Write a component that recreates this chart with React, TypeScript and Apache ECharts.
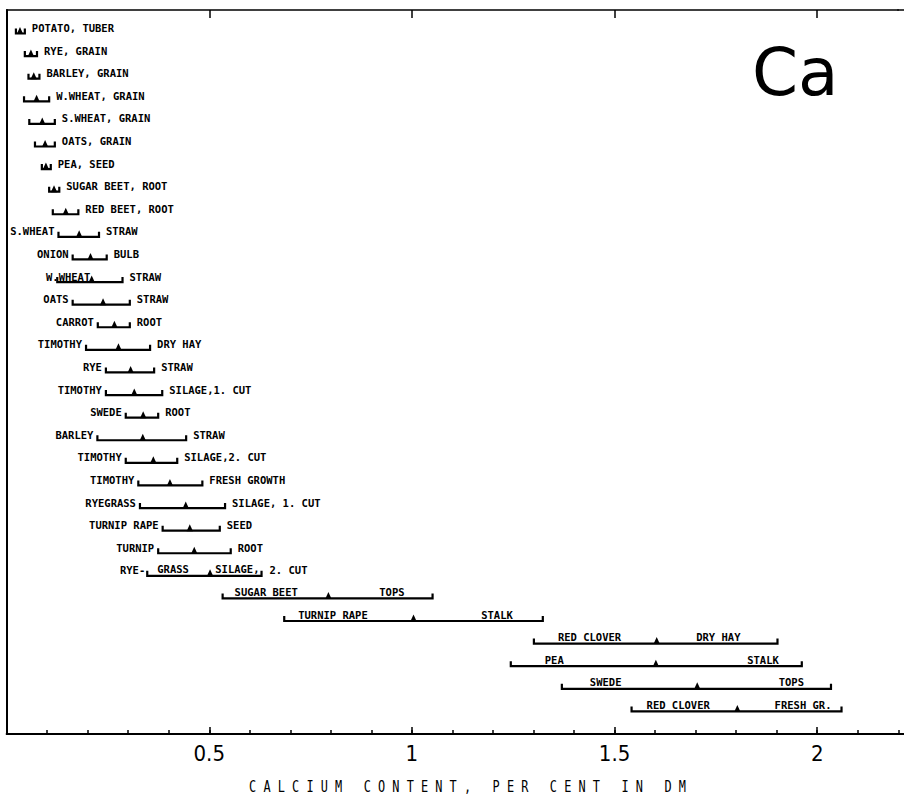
import React, { useEffect, useRef } from 'react';
import * as echarts from 'echarts';

// ---------- data ----------
const crops = [
  'POTATO', 'RYE', 'BARLEY', 'W.WHEAT', 'S.WHEAT', 'OATS', 'PEA', 'SUGAR BEET', 'RED BEET',
  'S.WHEAT', 'ONION', 'W.WHEAT', 'OATS', 'CARROT', 'TIMOTHY', 'RYE', 'TIMOTHY', 'SWEDE',
  'BARLEY', 'TIMOTHY', 'TIMOTHY', 'RYEGRASS', 'TURNIP RAPE', 'TURNIP', 'RYE-GRASS',
  'SUGAR BEET', 'TURNIP RAPE', 'RED CLOVER', 'PEA', 'SWEDE', 'RED CLOVER',
];
const parts = [
  'TUBER', 'GRAIN', 'GRAIN', 'GRAIN', 'GRAIN', 'GRAIN', 'SEED', 'ROOT', 'ROOT',
  'STRAW', 'BULB', 'STRAW', 'STRAW', 'ROOT', 'DRY HAY', 'STRAW', 'SILAGE,1. CUT', 'ROOT',
  'STRAW', 'SILAGE,2. CUT', 'FRESH GROWTH', 'SILAGE, 1. CUT', 'SEED', 'ROOT', 'SILAGE, 2. CUT',
  'TOPS', 'STALK', 'DRY HAY', 'STALK', 'TOPS', 'FRESH GR.',
];
const minVals = [
  0.023, 0.045, 0.054, 0.043, 0.056, 0.070, 0.087, 0.105, 0.114,
  0.128, 0.163, 0.125, 0.163, 0.225, 0.196, 0.245, 0.245, 0.294,
  0.224, 0.294, 0.325, 0.329, 0.385, 0.374, 0.347,
  0.533, 0.685, 1.301, 1.244, 1.370, 1.542,
];
const meanVals = [
  0.033, 0.060, 0.067, 0.074, 0.088, 0.095, 0.097, 0.117, 0.146,
  0.179, 0.207, 0.210, 0.238, 0.266, 0.276, 0.306, 0.315, 0.337,
  0.336, 0.362, 0.403, 0.442, 0.452, 0.463, 0.502,
  0.794, 1.004, 1.604, 1.602, 1.704, 1.803,
];
const maxVals = [
  0.045, 0.075, 0.081, 0.105, 0.119, 0.119, 0.109, 0.130, 0.177,
  0.228, 0.247, 0.286, 0.304, 0.304, 0.354, 0.364, 0.384, 0.374,
  0.443, 0.421, 0.483, 0.539, 0.526, 0.553, 0.629,
  1.051, 1.323, 1.902, 1.962, 2.034, 2.060,
];
// how the two label parts are arranged around the bracket
const labelKinds = [
  'after', 'after', 'after', 'after', 'after', 'after', 'after', 'after', 'after',
  'both', 'both', 'both', 'both', 'both', 'both', 'both', 'both', 'both',
  'both', 'both', 'both', 'both', 'both', 'both', 'hyphen',
  'inside', 'inside', 'inside', 'inside', 'inside', 'inside',
];
const tickValues = [0.5, 1, 1.5, 2];
const tickLabels = ['0.5', '1', '1.5', '2'];
const axisTitle = 'CALCIUM CONTENT, PER CENT IN DM';
const elementLabel = 'Ca';

// ---------- layout / style ----------
const W = 904;
const H = 794;
const PX_PER_UNIT = 405.3;
const X0 = 6.6;
const X_MAX = 2.2;
const GRID_TOP = 10;
const GRID_BOTTOM = 60;
const LABEL_FONT = 'bold 10.5px "DejaVu Sans Mono", monospace';
const innerPads: Record<number, [number, number]> = {
  25: [12, 28],
  26: [14, 30],
  27: [24, 37],
  28: [34, 23],
  29: [28, 27],
  30: [15, 10],
};
const leftLabelShift: Record<number, number> = { 11: 37 };

function spaced(s: string) {
  return s
    .split(' ')
    .map((w) => w.split('').join(' '))
    .join('   ');
}

export default function App() {
  const ref = useRef<HTMLDivElement>(null);

  useEffect(() => {
    if (!ref.current) return;
    const chart = echarts.init(ref.current, null, { renderer: 'svg' });

    const data = minVals.map((v, i) => [v, meanVals[i], maxVals[i], i]);

    const renderItem = (params: any, api: any) => {
      const i = params.dataIndex;
      const row = api.value(3);
      const pL = api.coord([api.value(0), row]);
      const xL = pL[0];
      const y = pL[1];
      const xM = api.coord([api.value(1), row])[0];
      const xR = api.coord([api.value(2), row])[0];
      const children: any[] = [
        {
          type: 'polyline',
          shape: { points: [[xL, y - 5], [xL, y], [xR, y], [xR, y - 5]] },
          style: { stroke: '#000', lineWidth: 2.2, fill: null },
        },
        {
          type: 'polygon',
          shape: { points: [[xM - 3.2, y + 0.5], [xM, y - 6.5], [xM + 3.2, y + 0.5]] },
          style: { fill: '#000' },
        },
      ];
      const txt = (text: string, x: number, align: string, ty: number) => ({
        type: 'text',
        style: { text, x, y: ty, align, verticalAlign: 'middle', font: LABEL_FONT, fill: '#000' },
      });
      const kind = labelKinds[i];
      const crop = crops[i];
      const part = parts[i];
      const ty = y - 5.5;
      if (kind === 'after') {
        children.push(txt(`${crop}, ${part}`, xR + 7, 'left', ty));
      } else if (kind === 'both') {
        const shift = leftLabelShift[i] || 0;
        children.push(txt(crop, xL - 4 + shift, 'right', ty));
        children.push(txt(part, xR + 7, 'left', ty));
      } else if (kind === 'inside') {
        const pads = innerPads[i] || [14, 25];
        children.push(txt(crop, xL + pads[0], 'left', y - 6.5));
        children.push(txt(part, xR - pads[1], 'right', y - 6.5));
      } else if (kind === 'hyphen') {
        const cp = crop.split('-');
        const comma = part.indexOf(', ');
        children.push(txt(cp[0] + '-', xL - 2, 'right', ty));
        children.push(txt(cp[1], xL + 10, 'left', y - 6.5));
        children.push(txt(part.slice(0, comma + 1), xR - 2, 'right', y - 6.5));
        children.push(txt(part.slice(comma + 2), xR + 8, 'left', ty));
      }
      return { type: 'group', children };
    };

    const xEnd = X0 + X_MAX * PX_PER_UNIT;
    const gridRight = W - xEnd;
    const grid = { left: X0, right: gridRight, top: GRID_TOP, bottom: GRID_BOTTOM, containLabel: false };
    const yBottom = H - GRID_BOTTOM;

    chart.setOption({
      animation: false,
      backgroundColor: '#fff',
      grid: [grid, { ...grid }],
      xAxis: [
        {
          // minor ticks every 0.1
          type: 'value',
          gridIndex: 0,
          position: 'bottom',
          min: 0,
          max: X_MAX,
          interval: 0.1,
          axisLine: { show: true, onZero: false, lineStyle: { color: '#000', width: 2 } },
          axisTick: { show: true, inside: true, length: 4, lineStyle: { color: '#000', width: 1.5 } },
          splitLine: { show: false },
          axisLabel: { show: false },
        },
        {
          type: 'value',
          gridIndex: 0,
          position: 'top',
          min: 0,
          max: X_MAX,
          interval: 0.5,
          axisLine: { show: true, onZero: false, lineStyle: { color: '#000', width: 1.5 } },
          axisTick: {
            show: true,
            inside: true,
            length: 8,
            customValues: tickValues,
            lineStyle: { color: '#000', width: 1.5 },
          },
          splitLine: { show: false },
          axisLabel: { show: false },
        },
        {
          // major ticks + labels
          type: 'value',
          gridIndex: 1,
          position: 'bottom',
          min: 0,
          max: X_MAX,
          interval: 0.5,
          axisLine: { show: false },
          axisTick: {
            show: true,
            inside: true,
            length: 7,
            customValues: tickValues,
            lineStyle: { color: '#000', width: 1.5 },
          },
          splitLine: { show: false },
          axisLabel: {
            show: true,
            margin: 8,
            color: '#000',
            fontSize: 22,
            fontFamily: '"Liberation Sans Narrow", "DejaVu Sans Condensed", "Liberation Sans", sans-serif',
            customValues: tickValues,
            formatter: (v: number) => {
              const k = tickValues.findIndex((t) => Math.abs(t - v) < 1e-6);
              return k >= 0 ? tickLabels[k] : '';
            },
          },
        },
      ],
      yAxis: [
        {
          type: 'value',
          gridIndex: 0,
          min: -1.04,
          max: 31,
          inverse: true,
          axisLine: { show: true, onZero: false, lineStyle: { color: '#000', width: 2 } },
          axisTick: { show: false },
          axisLabel: { show: false },
          splitLine: { show: false },
        },
        {
          type: 'value',
          gridIndex: 1,
          min: 0,
          max: 1,
          show: false,
        },
      ],
      graphic: [
        {
          type: 'line',
          shape: { x1: xEnd - 1, y1: GRID_TOP, x2: W, y2: GRID_TOP },
          style: { stroke: '#000', lineWidth: 1.5 },
        },
        {
          type: 'line',
          shape: { x1: xEnd - 1, y1: yBottom, x2: W, y2: yBottom },
          style: { stroke: '#000', lineWidth: 2 },
        },
        {
          type: 'text',
          x: 467.5,
          y: 786,
          scaleY: 1.4,
          style: {
            text: spaced(axisTitle),
            align: 'center',
            verticalAlign: 'middle',
            font: '11.9px "DejaVu Sans Mono", monospace',
            fill: '#000',
          },
        },
        {
          type: 'text',
          x: 752,
          y: 72,
          style: {
            text: elementLabel,
            align: 'left',
            verticalAlign: 'middle',
            font: '66px "DejaVu Sans", sans-serif',
            fill: '#000',
          },
        },
      ],
      series: [
        {
          type: 'custom',
          xAxisIndex: 0,
          yAxisIndex: 0,
          clip: false,
          encode: { x: [0, 1, 2], y: 3 },
          data,
          renderItem,
        },
      ],
    });

    return () => chart.dispose();
  }, []);

  return (
    <div
      ref={ref}
      style={{ position: 'fixed', left: 0, top: 0, width: W, height: H, background: '#fff' }}
    />
  );
}
